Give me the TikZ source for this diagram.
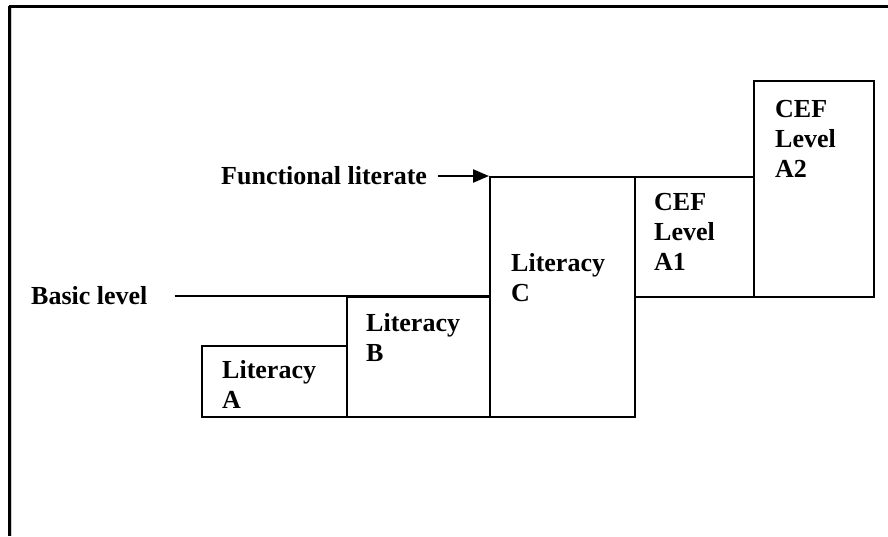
\documentclass[tikz,border=0pt]{standalone}
\usepackage{fontspec}
\setmainfont{Liberation Serif}
\usetikzlibrary{arrows.meta}
\begin{document}
\begin{tikzpicture}[x=1pt,y=-1pt,
  lvl/.style={draw,line width=2pt,anchor=north west,inner sep=0pt},
  lbl/.style={anchor=north west,inner sep=0pt,align=left,font=\fontsize{26}{30}\selectfont\bfseries},
  txt/.style={anchor=west,inner sep=0pt,font=\fontsize{26}{30}\selectfont\bfseries}]
  \useasboundingbox (0,0) rectangle (888,536);
  \draw[line width=3pt] (9,6) -- (888,6);
  \draw[line width=3pt] (9,6) -- (9,536);
  \draw[gray!40,line width=1pt] (11.5,8) -- (11.5,536);
  \node[lvl,minimum width=145pt,minimum height=71pt] (litA) at (201,345) {};
  \node[lvl,minimum width=143pt,minimum height=120pt] (litB) at (346,296) {};
  \node[lvl,minimum width=145pt,minimum height=240pt] (litC) at (489,176) {};
  \node[lvl,minimum width=119pt,minimum height=120pt] (cefA1) at (634,176) {};
  \node[lvl,minimum width=120pt,minimum height=216pt] (cefA2) at (753,80) {};
  \node[lbl] (labA) at ([shift={(21,15)}]litA.north west) {Literacy\\A};
  \node[lbl] (labB) at ([shift={(20,17)}]litB.north west) {Literacy\\B};
  \node[lbl] (labC) at ([shift={(22,77)}]litC.north west) {Literacy\\C};
  \node[lbl] (labA1) at ([shift={(20,17)}]cefA1.north west) {CEF\\Level\\A1};
  \node[lbl] (labA2) at ([shift={(22,20)}]cefA2.north west) {CEF\\Level\\A2};
  \node[txt] (basic) at (31,296) {Basic level};
  \node[txt] (func) at (221,176) {Functional literate};
  \draw[line width=2pt] ([xshift=27pt]basic.east) -- (basic.east -| litC.west);
  \draw[line width=2.4pt,-{Triangle[length=16pt,width=13pt]}] ([xshift=11pt]func.east) -- (litC.north west);
\end{tikzpicture}
\end{document}
